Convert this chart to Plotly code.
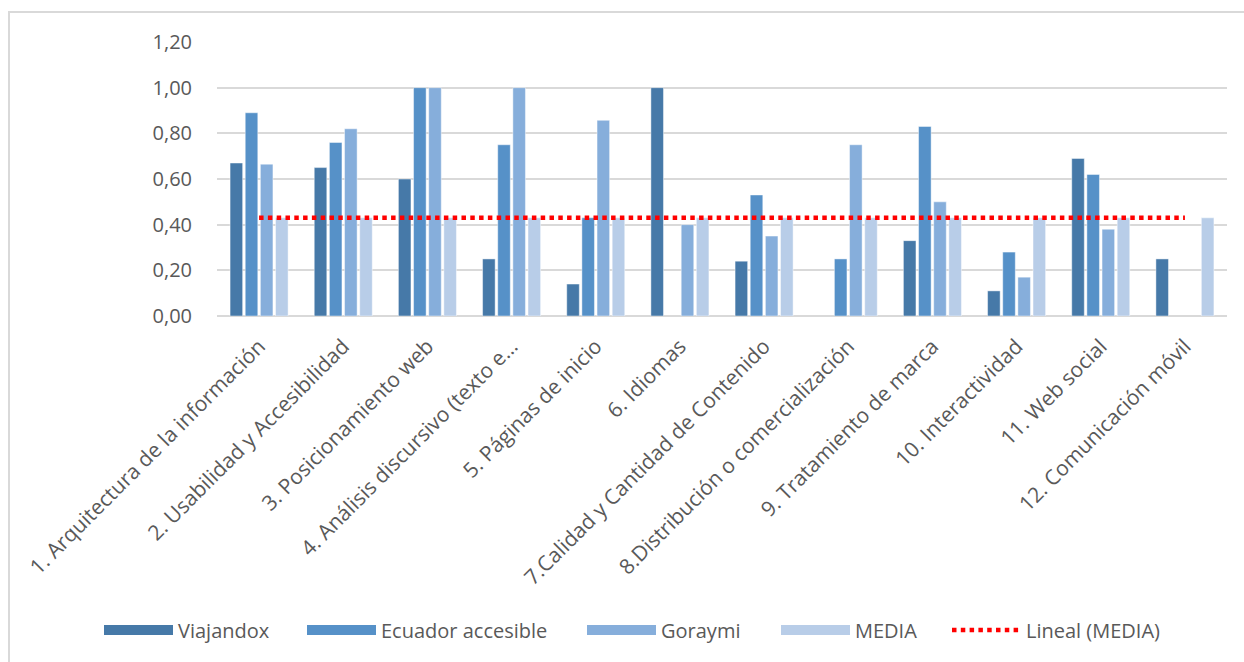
import numpy as np
import plotly.graph_objects as go

# Evaluation criteria (categories) and scores per site
categorias = [
    "1. Arquitectura de la información",
    "2. Usabilidad y Accesibilidad",
    "3. Posicionamiento web",
    "4. Análisis discursivo (texto e…",
    "5. Páginas de inicio",
    "6. Idiomas",
    "7.Calidad y Cantidad de Contenido",
    "8.Distribución o comercialización",
    "9. Tratamiento de marca",
    "10. Interactividad",
    "11. Web social",
    "12. Comunicación móvil",
]

viajandox = [0.67, 0.65, 0.60, 0.25, 0.14, 1.00, 0.24, None, 0.33, 0.11, 0.69, 0.25]
ecuador_accesible = [0.89, 0.76, 1.00, 0.75, 0.43, None, 0.53, 0.25, 0.83, 0.28, 0.62, None]
goraymi = [0.665, 0.82, 1.00, 1.00, 0.857, 0.40, 0.35, 0.75, 0.50, 0.17, 0.38, None]
media = [0.43, 0.43, 0.43, 0.43, 0.43, 0.43, 0.43, 0.43, 0.43, 0.43, 0.43, 0.43]

y_ticks = [0.0, 0.2, 0.4, 0.6, 0.8, 1.0, 1.2]
y_tick_text = ["0,00", "0,20", "0,40", "0,60", "0,80", "1,00", "1,20"]

series = [
    ("Viajandox", viajandox, "#4679A8"),
    ("Ecuador accesible", ecuador_accesible, "#5691C8"),
    ("Goraymi", goraymi, "#86AEDB"),
    ("MEDIA", media, "#B8CDE8"),
]

FONT = "Open Sans"
TXT = "#595959"

# plot area in pixels
L, R, T, B = 217, 17, 42, 346
W, H = 1244, 662
PW, PH = W - L - R, H - T - B

# left edge (px) of each legend entry along the bottom row
legend_x = [99, 302, 582, 776, 947]
legend_ids = ["legend", "legend2", "legend3", "legend4", "legend5"]

fig = go.Figure()
for name, vals, color in series:
    fig.add_trace(go.Bar(
        name=name, x=categorias, y=vals, showlegend=False, legendgroup=name,
        marker=dict(color=color, line=dict(color="rgba(255,255,255,0.45)", width=1)),
    ))

# Wide rectangular legend keys for the bar series
for (name, vals, color), lg in zip(series, legend_ids):
    fig.add_trace(go.Scatter(
        name=name, x=[None], y=[None], mode="lines", legendgroup=name, legend=lg,
        line=dict(color=color, width=14), hoverinfo="skip",
    ))

# Linear trendline of MEDIA over the category index
idx = np.arange(1, len(media) + 1)
slope, intercept = np.polyfit(idx, np.array(media, dtype=float), 1)
trend = [slope * idx[0] + intercept, slope * idx[-1] + intercept]
fig.add_trace(go.Scatter(
    name="Lineal (MEDIA)", x=[categorias[0], categorias[-1]], y=trend, legend=legend_ids[-1],
    mode="lines", line=dict(color="#FF0000", width=4.5, dash="4.5px,4.3px"),
))

# Light frame around the chart area
fig.add_shape(type="rect", xref="paper", yref="paper",
              x0=(9 - L) / PW, x1=(1250 - L) / PW,
              y0=(H - B - 670) / PH, y1=(H - B - 12) / PH,
              line=dict(color="#D9D9D9", width=2), fillcolor="rgba(0,0,0,0)",
              layer="below")

legend_style = dict(orientation="h", xanchor="left", yanchor="middle",
                    y=(H - B - 630) / PH, font=dict(family=FONT, size=20, color=TXT),
                    itemwidth=69, bgcolor="rgba(0,0,0,0)")
legends = {lg: dict(legend_style, x=(px - L) / PW) for lg, px in zip(legend_ids, legend_x)}

fig.update_layout(
    width=W, height=H,
    margin=dict(l=L, r=R, t=T, b=B),
    paper_bgcolor="white", plot_bgcolor="white",
    barmode="group", bargap=0.28, bargroupgap=0.17,
    font=dict(family=FONT, size=20, color=TXT),
    showlegend=True,
    **legends,
    xaxis=dict(type="category", tickangle=-45, showgrid=False, showline=False,
               ticks="", automargin=False, ticklabelstandoff=13,
               tickfont=dict(family=FONT, size=21, color=TXT)),
    yaxis=dict(range=[0, 1.2], tickvals=y_ticks, ticktext=y_tick_text,
               showgrid=True, gridcolor="#D9D9D9", gridwidth=2,
               zeroline=True, zerolinecolor="#D9D9D9", zerolinewidth=2,
               showline=False, ticks="", automargin=False, ticklabelstandoff=24,
               tickfont=dict(family=FONT, size=20, color=TXT)),
)

fig.write_html("out.html")
